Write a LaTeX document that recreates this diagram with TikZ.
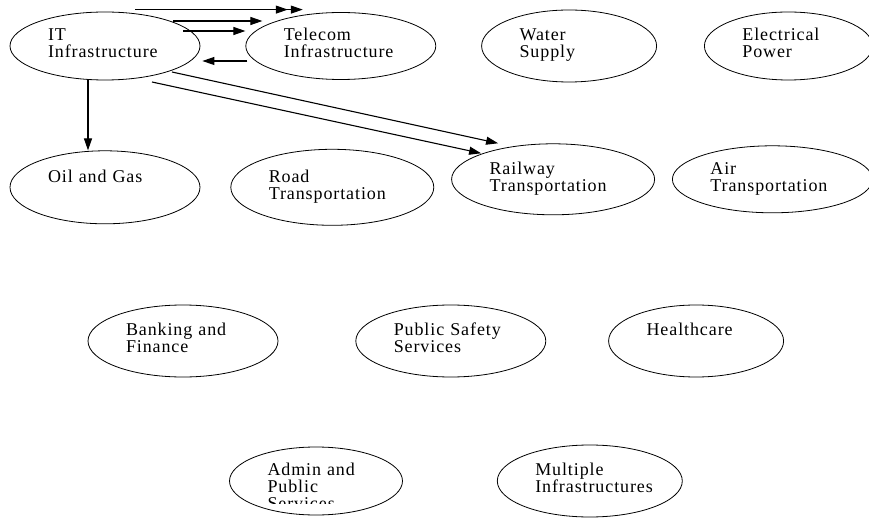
\documentclass[tikz,border=0pt]{standalone}
\usepackage{fontspec}
\setmainfont{Liberation Serif}[LetterSpace=5]
\usepackage{tikz}
\usetikzlibrary{positioning, shapes.geometric, arrows.meta}

\begin{document}
\begin{tikzpicture}[
        x=1pt, y=1pt,
        node distance=45pt,
        infra/.style={ellipse, draw, line width=0.8pt, minimum width=190pt, minimum height=70pt, inner sep=0pt,
            text width=114pt, align=left, text height=12.5pt, text depth=22.7pt, font=\fontsize{18}{17}\selectfont},
        link/.style={-{Triangle[length=12pt,width=8pt]}, line width=1.1pt},
    ]
        \useasboundingbox (0,0) rectangle (869,517);

        \node[infra, minimum height=68pt] (it) at (105,471) {IT\\Infrastructure};
        \node[infra, right=of it, minimum height=67pt] (telecom) {Telecom\\Infrastructure};
        \node[infra, right=of telecom, minimum width=175pt, text width=99pt, minimum height=72pt] (water) {Water\\Supply};
        \node[infra, right=47pt of water, minimum width=168pt, text width=92pt, minimum height=68pt] (power) {Electrical\\Power};

        \node[infra, below=70pt of it, minimum height=73pt] (oil) {Oil~and~Gas};
        \node[infra, right=30pt of oil, minimum width=203pt, text width=127pt, minimum height=76pt] (road) {Road\\Transportation};
        \node[infra, right=17pt of road, yshift=8pt, minimum width=203pt, text width=127pt, minimum height=71pt] (rail) {Railway\\Transportation};
        \node[infra, right=17pt of rail, minimum width=200pt, text width=124pt, minimum height=67pt] (air) {Air\\Transportation};

        \node[infra, minimum height=72pt] (bank) at (183,176) {Banking~and\\Finance};
        \node[infra, right=77pt of bank, minimum height=72pt] (safety) {Public~Safety\\Services};
        \node[infra, right=62pt of safety, minimum width=175pt, text width=99pt, minimum height=72pt] (health) {Healthcare};

        \node[infra, minimum width=173pt, text width=97pt, minimum height=68pt] (admin) at (316,36) {};
        \begin{scope}
            \clip ([yshift=-22pt]admin.west) rectangle (admin.east |- admin.north);
            \node[infra, draw=none, minimum width=173pt, text width=97pt, minimum height=68pt] (admintext) at (admin.center) {Admin~and\\Public\\Services};
        \end{scope}
        \node[infra, right=94pt of admin, minimum width=185pt, text width=109pt, minimum height=72pt] (multi) {Multiple\\Infrastructures};

        % arrow ends
        \coordinate (s1) at ([xshift=30pt,yshift=2pt]it.north);
        \coordinate (e1) at ([xshift=-38pt,yshift=2.5pt]telecom.north);
        \coordinate (e2) at ([xshift=-53pt,yshift=2.5pt]telecom.north);
        \coordinate (s3) at ([xshift=-27pt,yshift=25pt]it.east);
        \coordinate (e3) at ([xshift=17pt,yshift=25pt]telecom.west);
        \coordinate (s4) at ([xshift=-17pt,yshift=15pt]it.east);
        \coordinate (e4) at ([yshift=15pt]telecom.west);
        \coordinate (s5) at ([xshift=2pt,yshift=-15pt]telecom.west);
        \coordinate (e5) at ([xshift=2pt,yshift=-15pt]it.east);
        \coordinate (s6) at ([shift={(67pt,-26pt)}]it.center);
        \coordinate (e6) at ([shift={(-55pt,36pt)}]rail.center);
        \coordinate (s7) at ([shift={(47pt,-36pt)}]it.center);
        \coordinate (e7) at ([shift={(-72pt,26pt)}]rail.center);

        \draw[link] (s1) -- (e1);
        \draw[link] (s1) -- (e2);
        \draw[link] (s3) -- (e3);
        \draw[link] (s4) -- (e4);
        \draw[link] (s5) -- (e5);
        \draw[link] (s6) -- (e6);
        \draw[link] (s7) -- (e7);
        \draw[link] ([xshift=-17pt]it.south) -- ([xshift=-17pt]oil.north);
    \end{tikzpicture}
\end{document}
